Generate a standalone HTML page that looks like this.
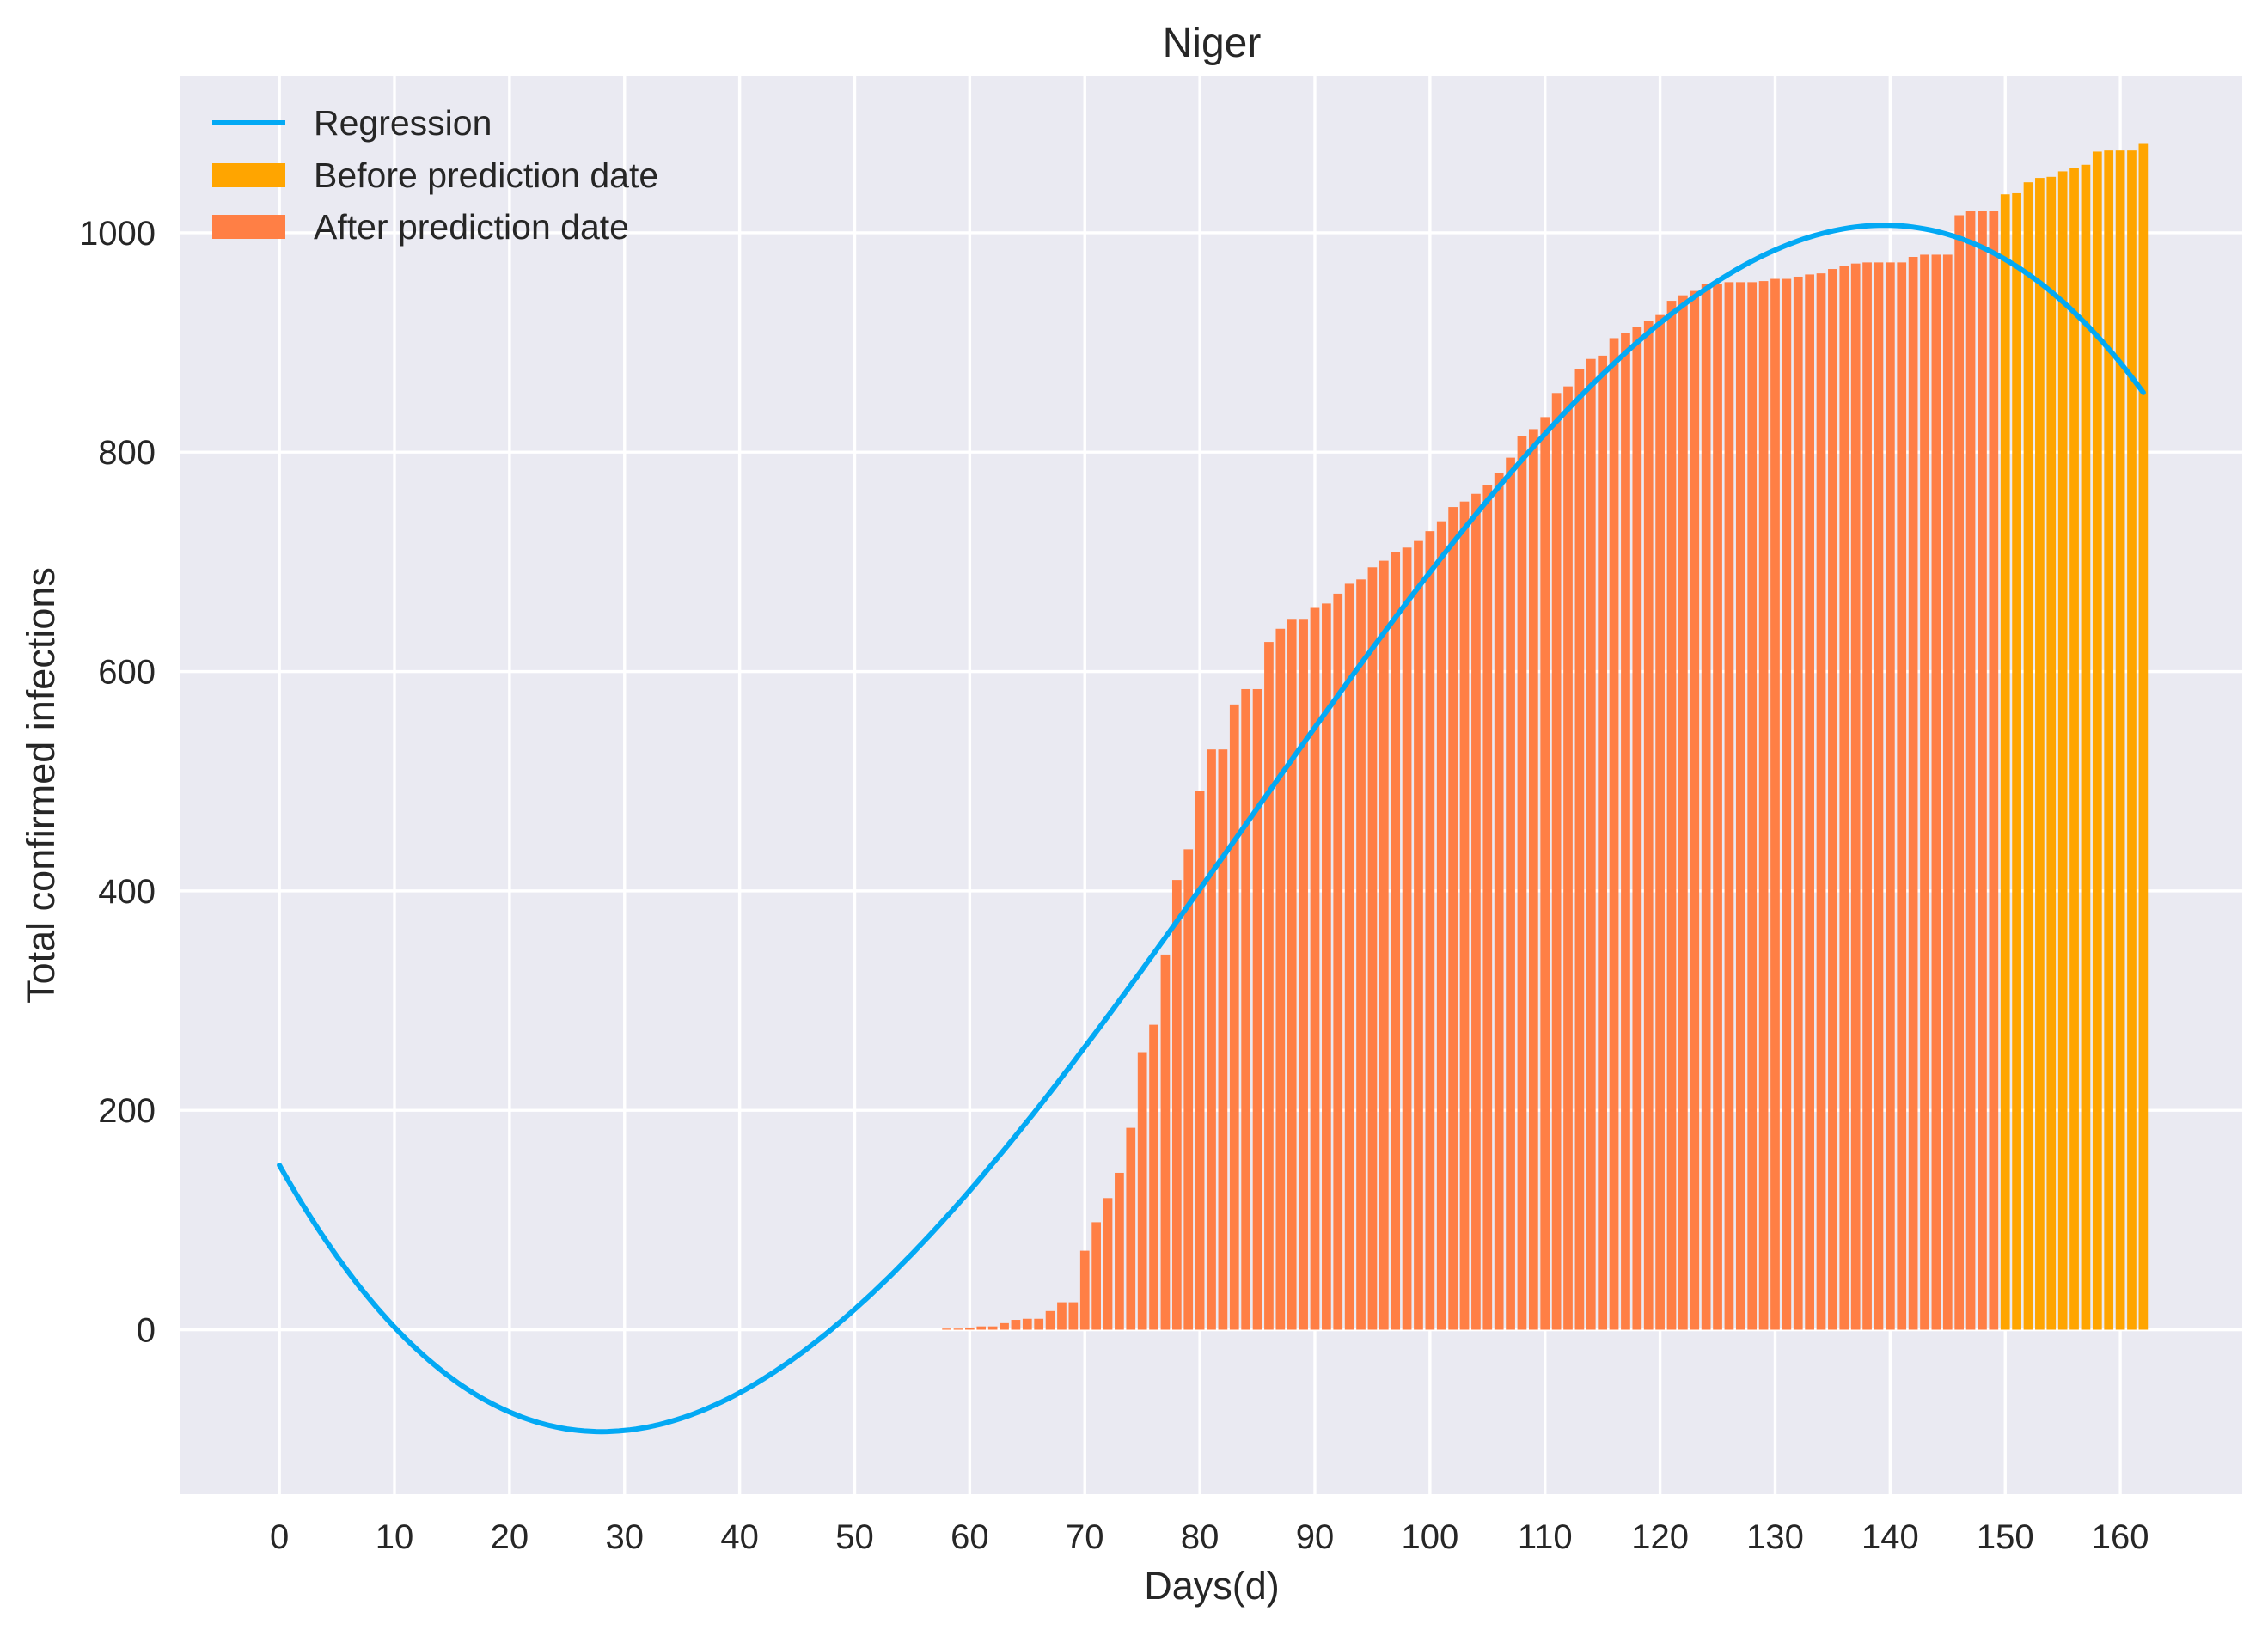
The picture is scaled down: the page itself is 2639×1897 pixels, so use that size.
<!DOCTYPE html>
<html><head><meta charset="utf-8"><style>
body{margin:0;background:#fff;}
svg{display:block;font-family:"Liberation Sans",sans-serif;}
</style></head><body>
<svg id="chart" width="2639" height="1897">
<rect x="210" y="89" width="2399" height="1650" fill="#EAEAF2"/>
<g id="grid"></g><g id="bars"></g><g id="line"></g><g id="ticks"></g>
<text x="1410" y="66" font-size="48" text-anchor="middle" fill="#262626">Niger</text>
<text x="1410" y="1861" font-size="45" text-anchor="middle" fill="#262626">Days(d)</text>
<text transform="translate(63,914) rotate(-90)" font-size="45" text-anchor="middle" fill="#262626">Total confirmed infections</text>
<g>
<line x1="247" y1="143" x2="332" y2="143" stroke="#03A9F4" stroke-width="6"/>
<text x="365" y="157" font-size="41" fill="#262626">Regression</text>
<rect x="247" y="190" width="85" height="28" fill="#FFA500"/>
<text x="365" y="218" font-size="41" fill="#262626">Before prediction date</text>
<rect x="247" y="250" width="85" height="28" fill="#FF7F45"/>
<text x="365" y="278" font-size="41" fill="#262626">After prediction date</text>
</g>
</svg>
<script>
const startDay = 58;
const splitDay = 150;
const values = [1,1,2,3,3,6,9,10,10,17,25,25,72,98,120,143,184,253,278,342,410,438,491,529,529,570,584,584,627,639,648,648,658,662,671,680,684,695,701,709,713,719,728,737,750,755,762,770,781,795,815,821,832,854,860,876,885,888,904,909,914,920,925,938,943,947,953,953,955,955,955,956,958,958,960,962,963,967,970,972,973,973,973,973,978,980,980,980,1016,1020,1020,1020,1035,1036,1046,1050,1051,1056,1059,1062,1074,1075,1075,1075,1081];
const regCoef = [-0.001587, 0.39873, -18.597, 150];
const xTicks = [0,10,20,30,40,50,60,70,80,90,100,110,120,130,140,150,160];
const yTicks = [0,200,400,600,800,1000];
const NS='http://www.w3.org/2000/svg';
const X0=210,X1=2609,Y0=89,Y1=1739, xmin=-8.6,xmax=170.6,ymin=-150,ymax=1142.5;
const sx=d=>X0+(d-xmin)/(xmax-xmin)*(X1-X0);
const sy=v=>Y1-(v-ymin)/(ymax-ymin)*(Y1-Y0);
function mk(t,a,p){const e=document.createElementNS(NS,t);for(const k in a)e.setAttribute(k,a[k]);p.appendChild(e);return e;}
const grid=document.getElementById('grid'),ticks=document.getElementById('ticks');
xTicks.forEach(t=>{
 const l=mk('line',{x1:sx(t),x2:sx(t),y1:Y0,y2:Y1,stroke:'#fff','stroke-width':3.4},grid);
 
 
 const tx=mk('text',{x:sx(t),y:1802,'font-size':40,'text-anchor':'middle',fill:'#262626'},ticks);
 tx.textContent=t;
 
 
});
yTicks.forEach(t=>{
 const l=mk('line',{x1:X0,x2:X1,y1:sy(t),y2:sy(t),stroke:'#fff','stroke-width':3.4},grid);
 
 
 const tx=mk('text',{x:181,y:sy(t)+14,'font-size':40,'text-anchor':'end',fill:'#262626'},ticks);
 tx.textContent=t;
 
 
});
const bars=document.getElementById('bars');
values.forEach((v,i)=>{
 const d=startDay+i;
 const r=mk('rect',{x:sx(d-0.4),width:sx(0.8)-sx(0),y:sy(v),height:sy(0)-sy(v),fill:d>=splitDay?'#FFA500':'#FF7F45'},bars);
 
 
});
let pts=[];
for(let d=0;d<=162;d+=0.5){const v=((regCoef[0]*d+regCoef[1])*d+regCoef[2])*d+regCoef[3];pts.push(sx(d).toFixed(1)+','+sy(v).toFixed(1));}
const pl=mk('polyline',{points:pts.join(' '),fill:'none',stroke:'#03A9F4','stroke-width':6,'stroke-linecap':'round'},document.getElementById('line'));


</script>
</body></html>
